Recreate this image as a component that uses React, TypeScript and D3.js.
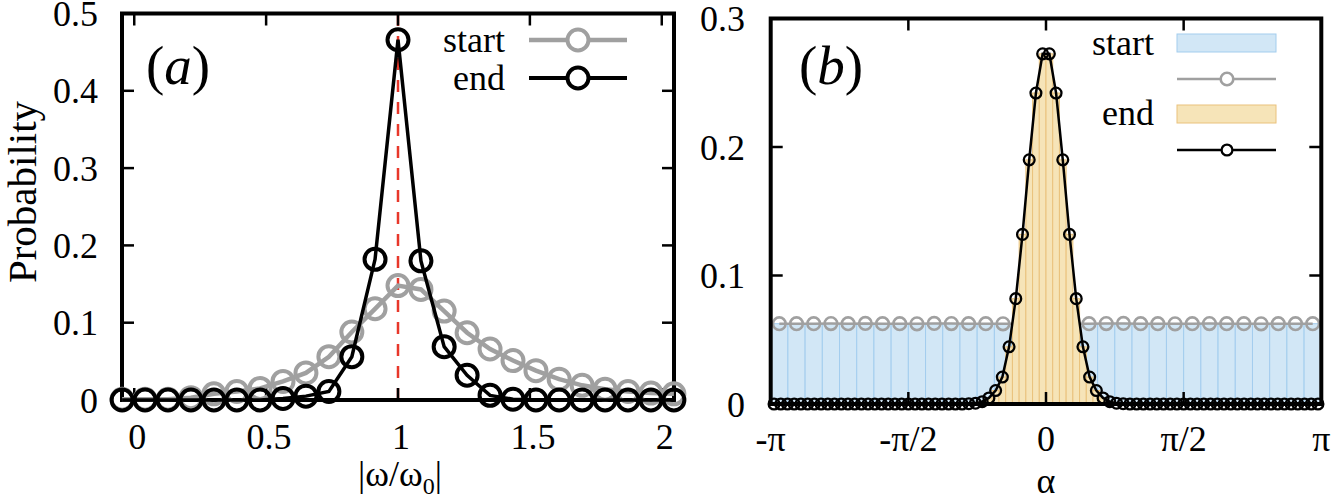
import React from "react";
import * as d3 from "d3";

// ---------- Panel (a) data ----------
const omegaA = [
  -0.046, 0.041, 0.128, 0.215, 0.302, 0.389, 0.477, 0.564, 0.651, 0.738, 0.825, 0.913, 1.0,
  1.087, 1.175, 1.262, 1.349, 1.436, 1.523, 1.611, 1.698, 1.785, 1.872, 1.959, 2.046,
];
const startA = [
  0.001, 0.001, 0.001, 0.003, 0.008, 0.011, 0.015, 0.024, 0.035, 0.056, 0.088, 0.118, 0.148,
  0.143, 0.115, 0.087, 0.066, 0.051, 0.038, 0.027, 0.019, 0.014, 0.011, 0.009, 0.008,
];
const endA = [
  0, 0, 0, 0, 0, 0, 0, 0.002, 0.005, 0.011, 0.056, 0.182, 0.466,
  0.18, 0.069, 0.032, 0.006, 0.001, 0, 0, 0, 0, 0, 0, 0,
];
const xTicksA = [0, 0.5, 1, 1.5, 2];
const xTickLabelsA = ["0", "0.5", "1", "1.5", "2"];
const yTicksA = [0, 0.1, 0.2, 0.3, 0.4, 0.5];
const yTickLabelsA = ["0", "0.1", "0.2", "0.3", "0.4", "0.5"];

// ---------- Panel (b) data ----------
const startB = [
  0.0625, 0.0625, 0.0625, 0.0626, 0.0625, 0.0627, 0.0625, 0.0625, 0.0624, 0.0627, 0.0626,
  0.0625, 0.0625, 0.0624, 0.0625, 0.0625, 0.0625, 0.0625, 0.0625, 0.0626, 0.0627, 0.0625,
  0.0625, 0.0624, 0.0625, 0.0626, 0.0625, 0.0625, 0.0624, 0.0625, 0.0625, 0.0625,
];
const endB = [
  0, 0, 0, 0, 0, 0, 0, 0, 0, 0, 0, 0, 0, 0, 0, 0, 0, 0, 0, 0, 0, 0, 0, 0, 0, 0, 0, 0, 0,
  0.0002, 0.0006, 0.0018, 0.0047, 0.0105, 0.021, 0.0445, 0.082, 0.132, 0.19, 0.242, 0.2725,
  0.2725, 0.242, 0.19, 0.132, 0.082, 0.0445, 0.021, 0.0105, 0.0047, 0.0018, 0.0006, 0.0002,
  0, 0, 0, 0, 0, 0, 0, 0, 0, 0, 0, 0, 0, 0, 0, 0, 0, 0, 0, 0, 0, 0, 0, 0, 0, 0, 0, 0, 0,
];
const xTicksB = [-Math.PI, -Math.PI / 2, 0, Math.PI / 2, Math.PI];
const xTickLabelsB = ["-π", "-π/2", "0", "π/2", "π"];
const yTicksB = [0, 0.1, 0.2, 0.3];
const yTickLabelsB = ["0", "0.1", "0.2", "0.3"];

const FONT = "'Liberation Serif', 'Times New Roman', serif";
const FS = 36;
const GRAY = "#a0a0a0";
const RED = "#e8372a";
const BLUE_FILL = "#d2e7f6";
const BLUE_STROKE = "#a3cdee";
const ORANGE_FILL = "#f6e4b8";
const ORANGE_STROKE = "#eac27c";

function Frame({ x0, x1, y0, y1, xt, yt }: any) {
  const L = 12;
  return (
    <g stroke="#000" fill="none">
      {xt.map((x: number, i: number) => (
        <g key={"x" + i} strokeWidth={2.5}>
          <line x1={x} x2={x} y1={y1} y2={y1 - L} />
          <line x1={x} x2={x} y1={y0} y2={y0 + L} />
        </g>
      ))}
      {yt.map((y: number, i: number) => (
        <g key={"y" + i} strokeWidth={2.5}>
          <line x1={x0} x2={x0 + L} y1={y} y2={y} />
          <line x1={x1} x2={x1 - L} y1={y} y2={y} />
        </g>
      ))}
      <rect x={x0} y={y0} width={x1 - x0} height={y1 - y0} strokeWidth={4} />
    </g>
  );
}

export default function App() {
  // Panel (a) scales
  const xA = d3.scaleLinear().domain([-0.0464, 2.0464]).range([122, 674]);
  const yA = d3.scaleLinear().domain([0, 0.5]).range([400, 13.5]);
  const lineA = d3
    .line<number>()
    .x((_, i) => xA(omegaA[i]))
    .y((d) => yA(d));

  // Panel (b) scales
  const xB = d3.scaleLinear().domain([-Math.PI, Math.PI]).range([770.7, 1321.3]);
  const yB = d3.scaleLinear().domain([0, 0.3]).range([404, 18.5]);
  const nS = startB.length;
  const nE = endB.length;
  const wS = (2 * Math.PI) / nS;
  const wE = (2 * Math.PI) / nE;
  const cS = (i: number) => -Math.PI + (i + 0.5) * wS;
  const cE = (i: number) => -Math.PI + (i + 0.5) * wE;
  const lineS = d3
    .line<number>()
    .x((_, i) => xB(cS(i)))
    .y((d) => yB(d));
  const lineE = d3
    .line<number>()
    .x((_, i) => xB(cE(i)))
    .y((d) => yB(d));

  return (
    <svg
      width={1331}
      height={502}
      style={{ position: "absolute", left: 0, top: 0, background: "#fff" }}
      fontFamily={FONT}
    >
      <rect width={1331} height={502} fill="#fff" />
      {/* ================= Panel (a) ================= */}
      <g>
        <line
          x1={xA(1)}
          x2={xA(1)}
          y1={yA(0)}
          y2={yA(0.5)}
          stroke={RED}
          strokeWidth={2.5}
          strokeDasharray="12,10"
        />
        <Frame
          x0={xA.range()[0]}
          x1={xA.range()[1]}
          y0={yA(0.5)}
          y1={yA(0)}
          xt={xTicksA.map((t) => xA(t))}
          yt={yTicksA.map((t) => yA(t))}
        />
        <path d={lineA(startA) || ""} fill="none" stroke={GRAY} strokeWidth={4.5} />
        {startA.map((v, i) => (
          <circle key={"sa" + i} cx={xA(omegaA[i])} cy={yA(v)} r={10.5} fill="none" stroke={GRAY} strokeWidth={4} />
        ))}
        <path d={lineA(endA) || ""} fill="none" stroke="#000" strokeWidth={3.5} />
        {endA.map((v, i) => (
          <circle key={"ea" + i} cx={xA(omegaA[i])} cy={yA(v)} r={10.5} fill="none" stroke="#000" strokeWidth={4} />
        ))}
        {/* tick labels */}
        {xTicksA.map((t, i) => (
          <text key={"xl" + i} x={xA(t) + 3} y={449} fontSize={FS} textAnchor="middle">
            {xTickLabelsA[i]}
          </text>
        ))}
        {yTicksA.map((t, i) => (
          <text key={"yl" + i} x={98} y={yA(t)} dy="0.35em" fontSize={FS} textAnchor="end">
            {yTickLabelsA[i]}
          </text>
        ))}
        <text x={400} y={486} fontSize={FS} textAnchor="middle">
          |ω/ω<tspan fontSize={24} dy={8}>0</tspan>
          <tspan dy={-8}>|</tspan>
        </text>
        <text transform="translate(36,192) rotate(-90)" fontSize={41} textAnchor="middle">
          Probability
        </text>
        <text x={146} y={84} fontSize={55}>
          (<tspan fontStyle="italic">a</tspan>)
        </text>
        {/* legend */}
        <text x={505} y={52} fontSize={FS} textAnchor="end">start</text>
        <line x1={529} x2={627} y1={40} y2={40} stroke={GRAY} strokeWidth={4.5} />
        <circle cx={578} cy={40} r={10.5} fill="#fff" stroke={GRAY} strokeWidth={4} />
        <text x={505} y={90} fontSize={FS} textAnchor="end">end</text>
        <line x1={529} x2={627} y1={78} y2={78} stroke="#000" strokeWidth={4} />
        <circle cx={578} cy={78} r={10.5} fill="#fff" stroke="#000" strokeWidth={4} />
      </g>

      {/* ================= Panel (b) ================= */}
      <g>
        {startB.map((v, i) => (
          <rect
            key={"sb" + i}
            x={xB(cS(i) - wS / 2)}
            y={yB(v)}
            width={xB(cS(i) + wS / 2) - xB(cS(i) - wS / 2)}
            height={yB(0) - yB(v)}
            fill={BLUE_FILL}
            stroke={BLUE_STROKE}
            strokeWidth={1}
          />
        ))}
        <path d={lineS(startB) || ""} fill="none" stroke={GRAY} strokeWidth={2.5} />
        {startB.map((v, i) => (
          <circle key={"sbc" + i} cx={xB(cS(i))} cy={yB(v)} r={6.3} fill="none" stroke={GRAY} strokeWidth={2.6} />
        ))}
        {endB.map((v, i) =>
          v > 0 ? (
            <rect
              key={"eb" + i}
              x={xB(cE(i) - wE / 2)}
              y={yB(v)}
              width={xB(cE(i) + wE / 2) - xB(cE(i) - wE / 2)}
              height={yB(0) - yB(v)}
              fill={ORANGE_FILL}
              stroke={ORANGE_STROKE}
              strokeWidth={1}
            />
          ) : null
        )}
        <Frame
          x0={xB.range()[0]}
          x1={xB.range()[1]}
          y0={yB(0.3)}
          y1={yB(0)}
          xt={xTicksB.map((t) => xB(t))}
          yt={yTicksB.map((t) => yB(t))}
        />
        <path d={lineE(endB) || ""} fill="none" stroke="#000" strokeWidth={2.5} />
        {endB.map((v, i) => (
          <circle key={"ebc" + i} cx={xB(cE(i))} cy={yB(v)} r={5.4} fill="none" stroke="#000" strokeWidth={2.3} />
        ))}
        {xTicksB.map((t, i) => (
          <text key={"xlb" + i} x={xB(t)} y={451} fontSize={FS} textAnchor="middle">
            {xTickLabelsB[i]}
          </text>
        ))}
        {yTicksB.map((t, i) => (
          <text key={"ylb" + i} x={745} y={yB(t)} dy="0.35em" fontSize={FS} textAnchor="end">
            {yTickLabelsB[i]}
          </text>
        ))}
        <text x={1046} y={493} fontSize={FS} textAnchor="middle">α</text>
        <text x={799} y={84} fontSize={55}>
          (<tspan fontStyle="italic">b</tspan>)
        </text>
        {/* legend */}
        <text x={1154} y={55} fontSize={FS} textAnchor="end">start</text>
        <rect x={1177} y={34} width={99} height={18} fill={BLUE_FILL} stroke={BLUE_STROKE} strokeWidth={1} />
        <line x1={1177} x2={1276} y1={79} y2={79} stroke={GRAY} strokeWidth={2.5} />
        <circle cx={1227} cy={79} r={6.3} fill="#fff" stroke={GRAY} strokeWidth={2.6} />
        <text x={1154} y={125} fontSize={FS} textAnchor="end">end</text>
        <rect x={1177} y={105} width={99} height={18} fill={ORANGE_FILL} stroke={ORANGE_STROKE} strokeWidth={1} />
        <line x1={1177} x2={1276} y1={150} y2={150} stroke="#000" strokeWidth={2.5} />
        <circle cx={1227} cy={150} r={5.4} fill="#fff" stroke="#000" strokeWidth={2.3} />
      </g>
    </svg>
  );
}
